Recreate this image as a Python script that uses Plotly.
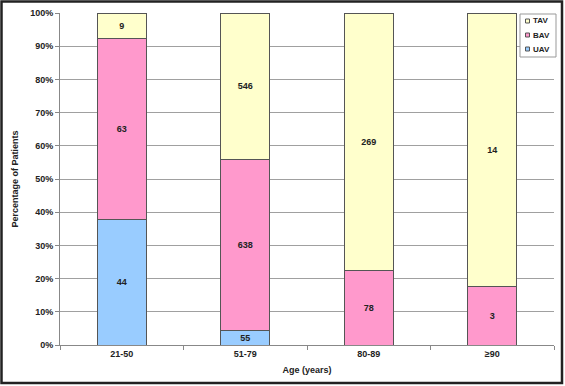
import plotly.graph_objects as go

categories = ["21-50", "51-79", "80-89", "≥90"]
uav = [44, 55, 0, 0]
bav = [63, 638, 78, 3]
tav = [9, 546, 269, 14]
y_ticks = [0, 10, 20, 30, 40, 50, 60, 70, 80, 90, 100]
y_tick_text = [f"{v}%" for v in y_ticks]

def labels(vals):
    return [str(v) if v else "" for v in vals]

FONT = "Liberation Sans, Arial"
W, H = 565, 386
L, R, T, B = 60, 11, 13, 41
PW, PH = W - L - R, H - T - B

def px_x(px):
    return (px - L) / PW

def px_y(py):
    return (H - B - py) / PH

fig = go.Figure()
series = [("UAV", uav, "#99CCFF"), ("BAV", bav, "#FF99CC"), ("TAV", tav, "#FFFFCC")]
for name, vals, col in series:
    fig.add_trace(go.Bar(
        name=name, x=categories, y=vals, text=labels(vals),
        marker=dict(color=col, line=dict(color="#555555", width=1)),
        textposition="inside", insidetextanchor="middle", textangle=0,
        textfont=dict(family=FONT, size=9, color="#222222", weight="bold"),
        constraintext="none", showlegend=False,
    ))

fig.update_layout(
    width=W, height=H,
    barmode="stack", barnorm="percent", bargap=0.6,
    margin=dict(l=L, r=R, t=T, b=B, autoexpand=False),
    paper_bgcolor="white", plot_bgcolor="white",
    font=dict(family=FONT, size=9, color="#222222"),
    showlegend=False,
    xaxis=dict(showline=True, linecolor="#888888", linewidth=1, ticks="outside",
               tickson="boundaries", ticklen=4, tickcolor="#888888",
               tickfont=dict(size=9, weight="bold"),
               title=dict(text="Age (years)", font=dict(size=9, weight="bold"), standoff=8)),
    yaxis=dict(range=[0, 100], tickvals=y_ticks, ticktext=y_tick_text, showline=True,
               linecolor="#888888", linewidth=1, ticks="outside", ticklen=4, tickcolor="#888888",
               gridcolor="#A0A0A0", gridwidth=1, zeroline=False,
               tickfont=dict(size=9, weight="bold"),
               title=dict(text="Percentage of Patients", font=dict(size=9, weight="bold"), standoff=10)),
)

# manual legend (top to bottom: TAV, BAV, UAV)
fig.add_shape(type="rect", xref="paper", yref="paper",
              x0=px_x(520), x1=px_x(556), y0=px_y(57), y1=px_y(14),
              fillcolor="white", line=dict(color="#999999", width=1), layer="above")
for i, (name, vals, col) in enumerate(reversed(series)):
    cy = 21 + 14 * i
    fig.add_shape(type="rect", xref="paper", yref="paper",
                  x0=px_x(525.5), x1=px_x(529.5), y0=px_y(cy + 2), y1=px_y(cy - 2),
                  fillcolor=col, line=dict(color="#555555", width=1), layer="above")
    fig.add_annotation(xref="paper", yref="paper", x=px_x(531), y=px_y(cy),
                       xanchor="left", yanchor="middle", showarrow=False, text=name,
                       font=dict(family=FONT, size=8, weight="bold", color="#222222"))

fig.add_shape(type="rect", xref="paper", yref="paper",
              x0=px_x(1.5), x1=px_x(562), y0=px_y(383), y1=px_y(1.5),
              line=dict(color="#222222", width=2.5), layer="above")

fig.write_html("out.html", config={"displayModeBar": False},
               post_script="document.body.style.margin='0';")
